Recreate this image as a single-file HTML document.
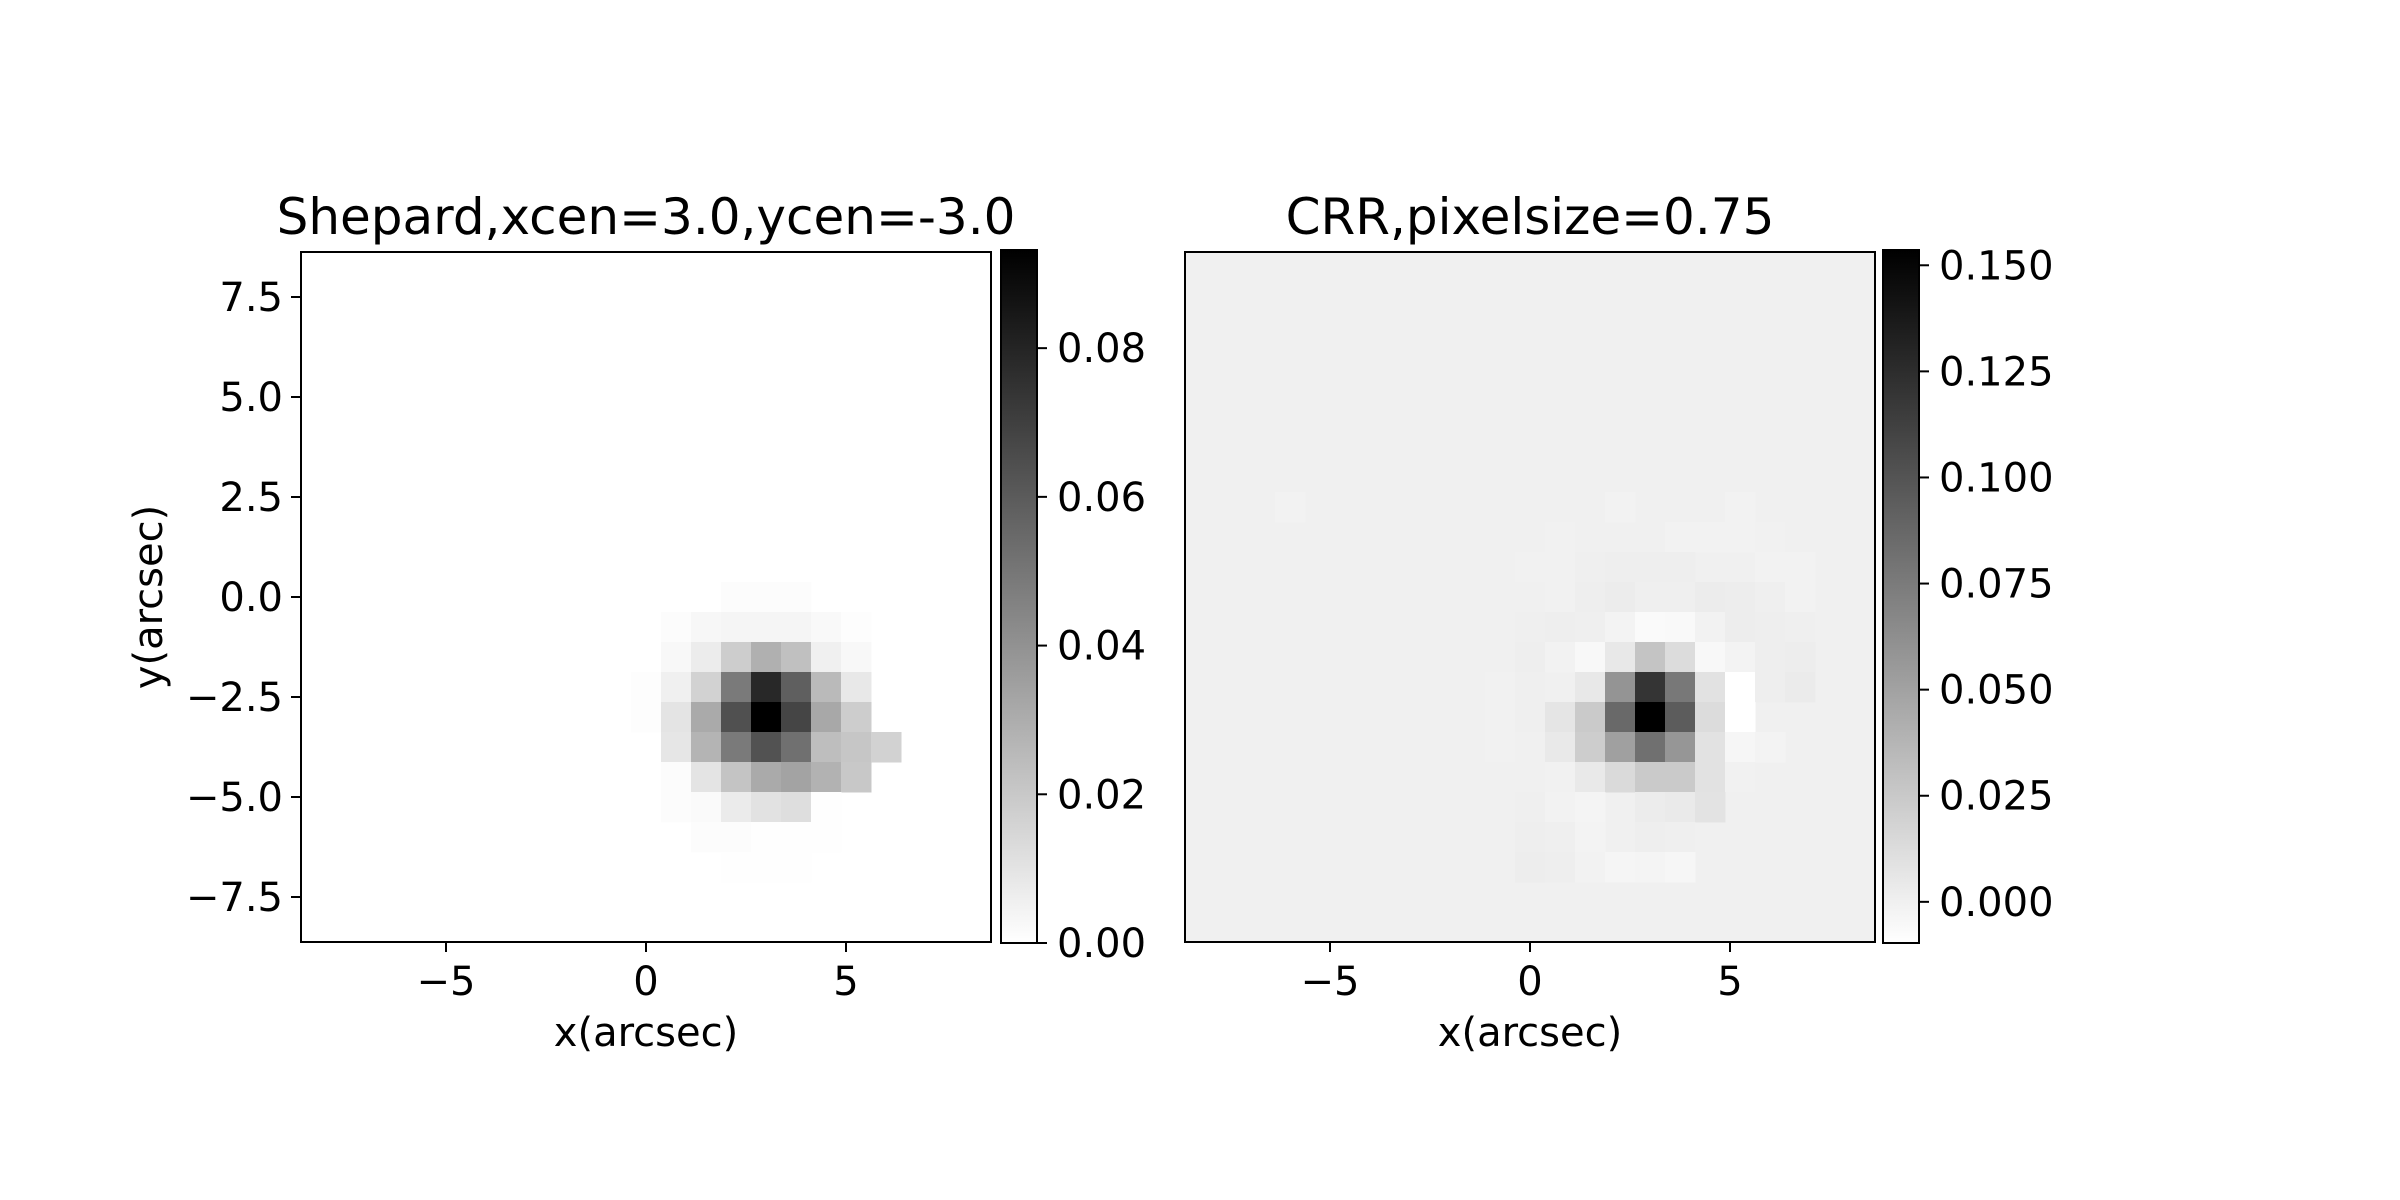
<!DOCTYPE html>
<html><head><meta charset="utf-8"><style>
html,body{margin:0;padding:0;background:#fff;}
svg{display:block;font-family:"DejaVu Sans","Liberation Sans",sans-serif;}
</style></head><body>
<svg id="fig" width="2400" height="1200" viewBox="0 0 2400 1200" xmlns="http://www.w3.org/2000/svg"></svg>
<script>
// ---- data: left panel (Shepard) sparse cells ----
const leftX = [2.25,3,3.75, 0.75,1.5,2.25,3,3.75,4.5,5.25, 0.75,1.5,2.25,3,3.75,4.5,5.25, 0,0.75,1.5,2.25,3,3.75,4.5,5.25, 0,0.75,1.5,2.25,3,3.75,4.5,5.25, 0.75,1.5,2.25,3,3.75,4.5,5.25,6, 0.75,1.5,2.25,3,3.75,4.5,5.25, 0.75,1.5,2.25,3,3.75,4.5, 1.5,2.25,3,3.75,4.5, 2.25,3,3.75];
const leftY = [0,0,0, -0.75,-0.75,-0.75,-0.75,-0.75,-0.75,-0.75, -1.5,-1.5,-1.5,-1.5,-1.5,-1.5,-1.5, -2.25,-2.25,-2.25,-2.25,-2.25,-2.25,-2.25,-2.25, -3,-3,-3,-3,-3,-3,-3,-3, -3.75,-3.75,-3.75,-3.75,-3.75,-3.75,-3.75,-3.75, -4.5,-4.5,-4.5,-4.5,-4.5,-4.5,-4.5, -5.25,-5.25,-5.25,-5.25,-5.25,-5.25, -6,-6,-6,-6,-6, -6.75,-6.75,-6.75];
const leftV = [0.0011,0.0011,0.0011, 0.0011,0.0029,0.0037,0.0037,0.0037,0.0022,0.0007, 0.0026,0.0070,0.0183,0.0289,0.0230,0.0055,0.0026, 0.0007,0.0055,0.0165,0.0486,0.0786,0.0585,0.0252,0.0084, 0.0007,0.0099,0.0311,0.0640,0.0932,0.0680,0.0318,0.0183, 0.0091,0.0274,0.0486,0.0632,0.0523,0.0238,0.0208,0.0165, 0.0011,0.0099,0.0216,0.0311,0.0336,0.0282,0.0201, 0.0011,0.0018,0.0073,0.0106,0.0121,0.0004, 0.0011,0.0011,0.0004,0.0004,0.0004, 0.0004,0.0004,0.0004];
const leftTicks = [0.00,0.02,0.04,0.06,0.08];
const leftTickLabels = ["0.00","0.02","0.04","0.06","0.08"];
const leftRange = [0, 0.0932];

// ---- data: right panel (CRR) sparse cells ----
const rightX = [2.25,5.25, 0.75,3.75,4.5,5.25,6, 0,0.75,1.5,2.25,3,3.75,6,6.75, 0.75,1.5,2.25,3,3.75,4.5,5.25,6,6.75, 0,0.75,1.5,2.25,3,3.75,4.5,5.25,6,6.75, 0,0.75,1.5,2.25,3,3.75,4.5,5.25,6,6.75, -0.75,0,1.5,2.25,3,3.75,4.5,5.25,6,6.75, -0.75,0,0.75,1.5,2.25,3,3.75,4.5,5.25, -0.75,0.75,1.5,2.25,3,3.75,4.5,5.25,6, 0.75,1.5,2.25,3,3.75,4.5,5.25, 0,0.75,1.5,3,3.75,4.5, 0,0.75,1.5,3,3.75, 0,0.75,1.5,2.25,3,3.75, -6];
const rightY = [2.25,2.25, 1.5,1.5,1.5,1.5,1.5, 0.75,0.75,0.75,0.75,0.75,0.75,0.75,0.75, 0,0,0,0,0,0,0,0,0, -0.75,-0.75,-0.75,-0.75,-0.75,-0.75,-0.75,-0.75,-0.75,-0.75, -1.5,-1.5,-1.5,-1.5,-1.5,-1.5,-1.5,-1.5,-1.5,-1.5, -2.25,-2.25,-2.25,-2.25,-2.25,-2.25,-2.25,-2.25,-2.25,-2.25, -3,-3,-3,-3,-3,-3,-3,-3,-3, -3.75,-3.75,-3.75,-3.75,-3.75,-3.75,-3.75,-3.75,-3.75, -4.5,-4.5,-4.5,-4.5,-4.5,-4.5,-4.5, -5.25,-5.25,-5.25,-5.25,-5.25,-5.25, -6,-6,-6,-6,-6, -6.75,-6.75,-6.75,-6.75,-6.75,-6.75, 2.25];
const rightV = [-0.0013,-0.0013, -0.0006,-0.0013,-0.0013,-0.0013,-0.0006, -0.0006,-0.0006,0.0006,0.0013,0.0013,0.0013,-0.0013,-0.0013, -0.0006,0.0013,0.0026,0.0006,0.0006,0.0026,0.0019,0.0006,-0.0013, 0.0006,0.0013,0.0006,-0.0019,-0.0064,-0.0058,-0.0013,0.0019,0.0013,0.0006, 0.0013,-0.0013,-0.0051,0.0051,0.0282,0.0128,-0.0051,-0.0019,0.0013,0.0019, -0.0006,0.0006,0.0051,0.0589,0.1203,0.0768,0.0090,-0.0096,0.0013,0.0032, -0.0006,0.0006,0.0070,0.0243,0.0864,0.1536,0.0947,0.0128,-0.0096, -0.0006,0.0045,0.0224,0.0512,0.0819,0.0576,0.0090,-0.0038,-0.0019, -0.0006,0.0045,0.0141,0.0243,0.0243,0.0090,-0.0006, 0.0006,-0.0013,-0.0026,0.0026,0.0038,0.0083, 0.0013,0.0006,-0.0019,0.0013,0.0006, 0.0019,0.0013,-0.0013,-0.0032,-0.0026,-0.0038, -0.0013];
const rightTicks = [0,0.025,0.05,0.075,0.1,0.125,0.15];
const rightTickLabels = ["0.000","0.025","0.050","0.075","0.100","0.125","0.150"];
const rightRange = [-0.0097, 0.1536];

const axisTicks = [-5,0,5];
const axisTickLabels = ["\u22125","0","5"];
const yTicks = [7.5,5,2.5,0,-2.5,-5,-7.5];
const yTickLabels = ["7.5","5.0","2.5","0.0","\u22122.5","\u22125.0","\u22127.5"];

const NS="http://www.w3.org/2000/svg";
const svg=document.getElementById('fig');
function mk(tag,attrs,parent,text){const e=document.createElementNS(NS,tag);for(const k in attrs)e.setAttribute(k,attrs[k]);if(text!==undefined)e.textContent=text;(parent||svg).appendChild(e);return e;}
const EXT=8.625, CELL=0.75, TOP=252, BOT=942;
function grayOf(v,r){let t=(v-r[0])/(r[1]-r[0]);t=Math.max(0,Math.min(1,t));const g=Math.round(255*(1-t));return `rgb(${g},${g},${g})`;}

function panel(name,L,xs,ys,vs,range,title,ticks,tickLabels,cbX,showY){
  const R=L+690, sx=x=>L+(x+EXT)/(2*EXT)*690, sy=y=>TOP+(EXT-y)/(2*EXT)*690;
  const g=mk('g',{});
  
  
  const bg=mk('rect',{x:L,y:TOP,width:690,height:690,fill:grayOf(0,range)},g);
  
  
  for(let i=0;i<xs.length;i++){
    const c=mk('rect',{x:sx(xs[i]-CELL/2),y:sy(ys[i]+CELL/2),width:sx(CELL)-sx(0)+0.5,height:sy(0)-sy(CELL)+0.5,fill:grayOf(vs[i],range)},g);
    
    
  }
  const fr=mk('rect',{x:L,y:TOP,width:690,height:690,fill:'none',stroke:'#000','stroke-width':2},g);
  
  
  axisTicks.forEach((t,i)=>{
    mk('line',{x1:sx(t),x2:sx(t),y1:BOT,y2:BOT+10,stroke:'#000','stroke-width':2},g);
    const tl=mk('text',{x:sx(t),y:995,'font-size':40,'text-anchor':'middle'},g,axisTickLabels[i]);
    
    
  });
  const xl=mk('text',{x:(L+R)/2,y:1046,'font-size':40,'text-anchor':'middle'},g,'x(arcsec)');
  
  
  if(showY){
    yTicks.forEach((t,i)=>{
      mk('line',{x1:L-10,x2:L,y1:sy(t),y2:sy(t),stroke:'#000','stroke-width':2},g);
      const tl=mk('text',{x:L-18,y:sy(t)+14,'font-size':40,'text-anchor':'end'},g,yTickLabels[i]);
      
      
    });
    const yl=mk('text',{x:0,y:0,'font-size':40,'text-anchor':'middle',transform:`translate(162,597) rotate(-90)`},g,'y(arcsec)');
    
    
  }
  const tt=mk('text',{x:(L+R)/2,y:234,'font-size':50,'text-anchor':'middle'},g,title);
  
  
  // colorbar
  const gid='grad-'+name;
  const defs=mk('defs',{},g);
  const lg=mk('linearGradient',{id:gid,x1:0,y1:1,x2:0,y2:0},defs);
  mk('stop',{offset:0,'stop-color':'#fff'},lg);mk('stop',{offset:1,'stop-color':'#000'},lg);
  const cbTop=250, cbBot=943, cw=36;
  const cb=mk('rect',{x:cbX,y:cbTop,width:cw,height:cbBot-cbTop,fill:`url(#${gid})`,stroke:'#000','stroke-width':2},g);
  
  
  const cy=v=>cbBot-(v-range[0])/(range[1]-range[0])*(cbBot-cbTop);
  ticks.forEach((t,i)=>{
    mk('line',{x1:cbX+cw,x2:cbX+cw+10,y1:cy(t),y2:cy(t),stroke:'#000','stroke-width':2},g);
    const tl=mk('text',{x:cbX+cw+20,y:cy(t)+14,'font-size':40},g,tickLabels[i]);
    
    
  });
}
panel('shepard',301,leftX,leftY,leftV,leftRange,'Shepard,xcen=3.0,ycen=-3.0',leftTicks,leftTickLabels,1001,true);
panel('crr',1185,rightX,rightY,rightV,rightRange,'CRR,pixelsize=0.75',rightTicks,rightTickLabels,1883,false);
</script>
</body></html>
